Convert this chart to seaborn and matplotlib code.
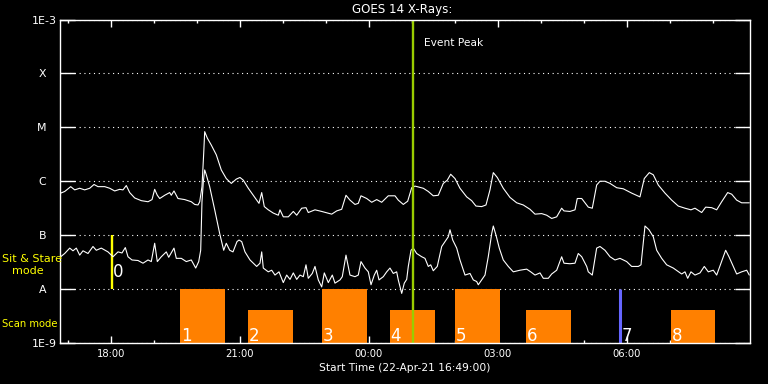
import numpy as np
import pandas as pd
import seaborn as sns
import matplotlib
matplotlib.use('Agg')
import matplotlib.pyplot as plt
from matplotlib.ticker import FixedLocator, NullLocator

# time axis: hours after start (22-Apr-21 16:49:00)
longHours = [0.016, 0.109, 0.249, 0.342, 0.458, 0.574, 0.691, 0.791, 0.884, 1.040,
             1.156, 1.272, 1.388, 1.465, 1.542, 1.621, 1.737, 1.891, 2.047, 2.140,
             2.202, 2.263, 2.319, 2.435, 2.551, 2.588, 2.651, 2.744, 2.900, 3.053,
             3.133, 3.209, 3.249, 3.302, 3.342, 3.365, 3.426, 3.519, 3.635, 3.751,
             3.867, 3.984, 4.100, 4.186, 4.263, 4.379, 4.495, 4.628, 4.691, 4.751,
             4.844, 4.960, 5.077, 5.116, 5.193, 5.309, 5.426, 5.505, 5.621, 5.721,
             5.774, 5.930, 6.086, 6.319, 6.435, 6.551, 6.651, 6.744, 6.860, 6.937,
             7.000, 7.133, 7.249, 7.365, 7.481, 7.635, 7.791, 7.867, 7.984, 8.086,
             8.179, 8.256, 8.449, 8.565, 8.681, 8.798, 8.914, 9.007, 9.086, 9.186,
             9.302, 9.458, 9.574, 9.674, 9.807, 9.907, 10.000, 10.077, 10.170, 10.309,
             10.465, 10.621, 10.774, 10.930, 11.047, 11.202, 11.319, 11.435, 11.551, 11.667,
             11.721, 11.860, 11.977, 12.030, 12.133, 12.249, 12.286, 12.379, 12.481, 12.558,
             12.674, 12.791, 12.947, 13.100, 13.295, 13.488, 13.588, 13.705, 13.798, 13.914,
             14.070, 14.226, 14.379, 14.535, 14.674, 14.767, 14.923, 15.016, 15.156, 15.272,
             15.388, 15.528, 15.621, 15.737, 15.853, 16.030]
# log10 of flux, W/m^2 (1-8 A channel)
longLogFlux = [-6.22, -6.19, -6.10, -6.16, -6.13, -6.16, -6.13, -6.06, -6.10, -6.10,
               -6.13, -6.18, -6.15, -6.16, -6.08, -6.21, -6.31, -6.36, -6.38, -6.34,
               -6.15, -6.26, -6.32, -6.26, -6.21, -6.26, -6.18, -6.32, -6.34, -6.38,
               -6.43, -6.44, -6.38, -6.10, -5.48, -5.08, -5.20, -5.33, -5.51, -5.79,
               -5.95, -6.04, -5.96, -5.93, -5.98, -6.13, -6.26, -6.41, -6.21, -6.47,
               -6.53, -6.59, -6.63, -6.53, -6.66, -6.66, -6.56, -6.63, -6.50, -6.49,
               -6.58, -6.53, -6.56, -6.61, -6.55, -6.52, -6.26, -6.35, -6.43, -6.41,
               -6.27, -6.32, -6.39, -6.34, -6.39, -6.27, -6.27, -6.35, -6.43, -6.37,
               -6.12, -6.09, -6.13, -6.19, -6.27, -6.26, -6.04, -5.98, -5.87, -5.95,
               -6.13, -6.29, -6.36, -6.46, -6.47, -6.44, -6.16, -5.84, -5.93, -6.13,
               -6.30, -6.40, -6.44, -6.52, -6.61, -6.60, -6.63, -6.69, -6.66, -6.50,
               -6.55, -6.56, -6.53, -6.32, -6.32, -6.44, -6.48, -6.50, -6.07, -6.00,
               -6.00, -6.04, -6.12, -6.14, -6.22, -6.29, -5.95, -5.84, -5.88, -6.07,
               -6.22, -6.35, -6.46, -6.50, -6.53, -6.50, -6.58, -6.48, -6.49, -6.53,
               -6.38, -6.21, -6.24, -6.35, -6.40, -6.40]

shortHours = [0.016, 0.109, 0.226, 0.302, 0.379, 0.458, 0.535, 0.651, 0.767, 0.844,
              0.960, 1.116, 1.233, 1.349, 1.442, 1.519, 1.581, 1.674, 1.814, 1.930,
              2.047, 2.123, 2.202, 2.263, 2.356, 2.472, 2.528, 2.651, 2.705, 2.821,
              2.937, 3.053, 3.156, 3.226, 3.272, 3.302, 3.333, 3.365, 3.402, 3.481,
              3.598, 3.714, 3.807, 3.867, 3.947, 4.023, 4.116, 4.163, 4.226, 4.302,
              4.419, 4.574, 4.651, 4.691, 4.728, 4.844, 4.923, 5.000, 5.093, 5.193,
              5.272, 5.349, 5.426, 5.505, 5.581, 5.658, 5.721, 5.774, 5.867, 5.930,
              6.007, 6.086, 6.147, 6.240, 6.333, 6.395, 6.512, 6.565, 6.651, 6.744,
              6.860, 6.937, 7.000, 7.093, 7.170, 7.233, 7.309, 7.365, 7.419, 7.519,
              7.598, 7.674, 7.751, 7.830, 7.867, 7.947, 8.007, 8.063, 8.100, 8.163,
              8.216, 8.295, 8.412, 8.488, 8.565, 8.621, 8.681, 8.774, 8.877, 8.977,
              9.030, 9.070, 9.133, 9.226, 9.302, 9.419, 9.535, 9.612, 9.691, 9.728,
              9.807, 9.884, 9.960, 10.040, 10.077, 10.140, 10.216, 10.309, 10.426, 10.542,
              10.698, 10.853, 10.947, 11.047, 11.163, 11.240, 11.356, 11.435, 11.551, 11.667,
              11.721, 11.860, 11.977, 12.053, 12.133, 12.249, 12.286, 12.379, 12.481, 12.558,
              12.674, 12.791, 12.907, 13.023, 13.179, 13.295, 13.449, 13.512, 13.605, 13.698,
              13.798, 13.877, 13.993, 14.109, 14.263, 14.458, 14.535, 14.598, 14.674, 14.767,
              14.884, 14.984, 15.077, 15.193, 15.272, 15.372, 15.481, 15.558, 15.658, 15.737,
              15.853, 15.970, 16.030]
# log10 of flux, W/m^2 (0.5-4 A channel)
shortLogFlux = [-7.40, -7.34, -7.24, -7.29, -7.24, -7.37, -7.29, -7.34, -7.21, -7.28,
                -7.24, -7.31, -7.40, -7.31, -7.33, -7.23, -7.40, -7.46, -7.47, -7.52,
                -7.46, -7.49, -7.15, -7.49, -7.40, -7.31, -7.41, -7.24, -7.43, -7.43,
                -7.49, -7.46, -7.61, -7.49, -7.28, -6.38, -6.01, -5.79, -5.88, -6.10,
                -6.53, -6.97, -7.28, -7.15, -7.28, -7.31, -7.12, -7.09, -7.12, -7.31,
                -7.46, -7.58, -7.52, -7.31, -7.61, -7.68, -7.65, -7.74, -7.68, -7.88,
                -7.74, -7.82, -7.70, -7.82, -7.74, -7.77, -7.55, -7.80, -7.71, -7.58,
                -7.83, -7.96, -7.70, -7.88, -7.74, -7.89, -7.83, -7.77, -7.37, -7.74,
                -7.77, -7.74, -7.49, -7.61, -7.68, -7.92, -7.74, -7.65, -7.83, -7.77,
                -7.68, -7.61, -7.71, -7.68, -7.83, -8.08, -7.89, -7.82, -7.58, -7.28,
                -7.24, -7.34, -7.40, -7.43, -7.58, -7.55, -7.66, -7.58, -7.21, -7.09,
                -7.03, -6.90, -7.09, -7.24, -7.46, -7.74, -7.71, -7.83, -7.86, -7.92,
                -7.83, -7.74, -7.40, -6.97, -6.83, -7.00, -7.24, -7.46, -7.58, -7.68,
                -7.65, -7.63, -7.68, -7.74, -7.70, -7.80, -7.80, -7.72, -7.65, -7.40,
                -7.52, -7.53, -7.52, -7.34, -7.40, -7.58, -7.68, -7.74, -7.24, -7.21,
                -7.28, -7.40, -7.46, -7.43, -7.49, -7.58, -7.58, -7.55, -6.83, -6.90,
                -7.03, -7.28, -7.43, -7.55, -7.61, -7.72, -7.68, -7.80, -7.68, -7.74,
                -7.70, -7.58, -7.68, -7.65, -7.74, -7.52, -7.28, -7.40, -7.58, -7.72,
                -7.68, -7.65, -7.74]

# observation blocks
scanLabels = ['1', '2', '3', '4', '5', '6', '7', '8']
scanStart = [2.791, 4.372, 6.093, 7.674, 9.186, 10.837, 13.023, 14.209]
scanEnd = [3.837, 5.419, 7.140, 8.721, 10.233, 11.884, 13.023, 15.233]
scanTop = [1e-8, 4.1e-9, 1e-8, 4.1e-9, 1e-8, 4.1e-9, 1e-8, 4.1e-9]
stareLabel = '0'
stareHour = 1.209
stareRange = [1e-8, 1e-7]
eventPeakHour = 8.209

majorHours = [1.1833, 4.1833, 7.1833, 10.1833, 13.1833]
majorLabels = ['18:00', '21:00', '00:00', '03:00', '06:00']
minorHours = [0.1833 + k for k in range(16)]
yDecades = [1e-9, 1e-8, 1e-7, 1e-6, 1e-5, 1e-4, 1e-3]
yLabels = ['1E-9', 'A   ', 'B   ', 'C   ', 'M   ', 'X   ', '1E-3']

sns.set_theme(style='dark', rc={
    'figure.facecolor': 'black', 'axes.facecolor': 'black',
    'axes.edgecolor': 'white', 'axes.labelcolor': 'white', 'text.color': 'white',
    'xtick.color': 'white', 'ytick.color': 'white', 'axes.linewidth': 1.0,
})
plt.rcParams['font.family'] = ['DejaVu Sans']

df = pd.concat([
    pd.DataFrame({'hours': longHours, 'flux': 10.0 ** np.array(longLogFlux), 'channel': 'long'}),
    pd.DataFrame({'hours': shortHours, 'flux': 10.0 ** np.array(shortLogFlux), 'channel': 'short'}),
])

fig = plt.figure(figsize=(7.68, 3.84), dpi=100)
ax = fig.add_axes([60 / 768, 41 / 384, 690 / 768, 323.5 / 384])
ax.set_yscale('log')

# scan mode blocks
for lab, s, e, top in zip(scanLabels, scanStart, scanEnd, scanTop):
    if e - s < 0.05:
        ax.plot([s, s], [1e-9, top], color='#6666ff', lw=2.2, zorder=2, solid_capstyle='butt')
        ax.annotate(lab, (s, 1.09e-9), xytext=(1.2, 0), textcoords='offset points',
                    fontsize=12, va='baseline', ha='left', color='white', zorder=5)
    else:
        ax.bar(s, top - 1e-9, width=e - s, bottom=1e-9, align='edge', color='#ff8000',
               linewidth=0, zorder=2)
        ax.annotate(lab, (s, 1.09e-9), xytext=(0.5, 0), textcoords='offset points',
                    fontsize=12, va='baseline', ha='left', color='white', zorder=5)

# sit & stare marker
ax.plot([stareHour, stareHour], stareRange, color='#ffff00', lw=1.7, zorder=2, solid_capstyle='butt')
ax.annotate(stareLabel, (stareHour, 1.65e-8), xytext=(0.8, 0), textcoords='offset points',
            fontsize=12, va='baseline', ha='left', color='white', zorder=5)

sns.lineplot(data=df, x='hours', y='flux', hue='channel', units='channel', estimator=None,
             sort=False, palette={'long': 'white', 'short': 'white'}, linewidth=0.8,
             legend=False, ax=ax, zorder=3)

ax.axvline(eventPeakHour, color='#99cc00', lw=1.7, zorder=4)
ax.annotate('Event Peak', (eventPeakHour, 10 ** -3.43), xytext=(8, 0), textcoords='offset points',
            fontsize=7.7, va='center', ha='left', color='white')

ax.set_xlim(0, 16.047)
ax.set_ylim(1e-9, 1e-3)
ax.xaxis.set_major_locator(FixedLocator(majorHours))
ax.set_xticklabels(majorLabels)
ax.xaxis.set_minor_locator(FixedLocator(minorHours))
ax.set_yticks(yDecades)
ax.set_yticklabels(yLabels)
ax.yaxis.set_minor_locator(NullLocator())

ax.tick_params(axis='x', which='major', direction='in', top=True, bottom=True,
               length=5, width=1, labelsize=7.2, pad=4.2)
ax.tick_params(axis='x', which='minor', direction='in', top=True, bottom=True,
               length=2.5, width=1)
ax.tick_params(axis='y', which='major', direction='in', left=True, right=True,
               length=10.8, width=1, labelsize=7.9, pad=2.2)

ax.grid(False)
ax.grid(axis='y', which='major', color='white', linestyle=(0, (1, 3.3)), linewidth=0.8)
ax.set_axisbelow(True)
for sp in ax.spines.values():
    sp.set_color('white')
    sp.set_linewidth(1.0)
    sp.set_zorder(6)

ax.set_xlabel('')
ax.set_ylabel('')
fig.text(402 / 768, 1 - 10 / 384, 'GOES 14 X-Rays:', ha='center', va='center', fontsize=8.6)
fig.text(405 / 768, 1 - 368 / 384, 'Start Time (22-Apr-21 16:49:00)', ha='center', va='center', fontsize=7.7)
fig.text(2 / 768, 1 - 259 / 384, 'Sit & Stare', ha='left', va='center', fontsize=8, color='#ffff00')
fig.text(12 / 768, 1 - 271 / 384, 'mode', ha='left', va='center', fontsize=8, color='#ffff00')
fig.text(2 / 768, 1 - 324 / 384, 'Scan mode', ha='left', va='center', fontsize=7.2, color='#ffff00')

fig.savefig('out.png', dpi=100, facecolor='black')
